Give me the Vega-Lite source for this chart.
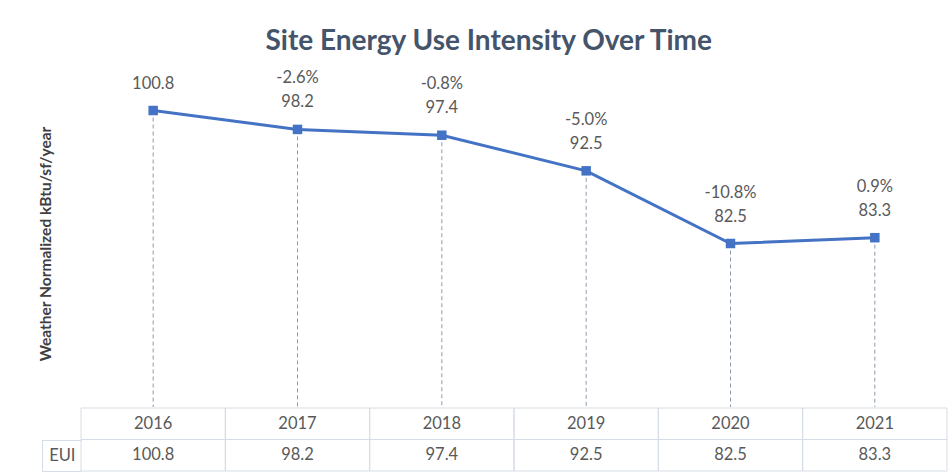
{
  "$schema": "https://vega.github.io/schema/vega-lite/v6.json",
  "background": "white",
  "padding": {"left": 38, "top": 27, "right": 3, "bottom": 3},
  "title": {
    "text": "Site Energy Use Intensity Over Time",
    "font": "Lato",
    "fontSize": 28,
    "fontWeight": "bold",
    "color": "#44546A",
    "anchor": "middle",
    "frame": "bounds",
    "dx": -4,
    "offset": -4
  },
  "config": {"view": {"stroke": null}},
  "datasets": {
    "eui": [
      {"year": "2016", "eui": 100.8, "pct": ""},
      {"year": "2017", "eui": 98.2, "pct": "-2.6%"},
      {"year": "2018", "eui": 97.4, "pct": "-0.8%"},
      {"year": "2019", "eui": 92.5, "pct": "-5.0%"},
      {"year": "2020", "eui": 82.5, "pct": "-10.8%"},
      {"year": "2021", "eui": 83.3, "pct": "0.9%"}
    ]
  },
  "spacing": -13.5,
  "vconcat": [
    {
      "width": 866,
      "height": 327,
      "data": {"name": "eui"},
      "encoding": {
        "x": {"field": "year", "type": "ordinal", "scale": {"paddingInner": 0, "paddingOuter": 0}, "axis": null}
      },
      "layer": [
        {
          "mark": {"type": "rule", "strokeDash": [4, 3], "color": "#8C99AD", "strokeWidth": 1},
          "encoding": {
            "y": {
              "field": "eui", "type": "quantitative",
              "scale": {"domain": [60, 105], "nice": false, "zero": false},
              "axis": {
                "title": "Weather Normalized  kBtu/sf/year",
                "titleFont": "Lato", "titleFontSize": 15.5, "titleFontWeight": "bold", "titleColor": "#404040",
                "titlePadding": 28,
                "domain": false, "ticks": false, "labels": false, "grid": false
              }
            },
            "y2": {"datum": 60}
          }
        },
        {
          "mark": {"type": "line", "color": "#4472C4", "strokeWidth": 3},
          "encoding": {"y": {"field": "eui", "type": "quantitative"}}
        },
        {
          "mark": {"type": "square", "size": 90, "color": "#4472C4", "opacity": 1, "filled": true},
          "encoding": {"y": {"field": "eui", "type": "quantitative"}}
        },
        {
          "mark": {"type": "text", "dy": -27, "font": "Lato", "fontSize": 16.5, "color": "#595959", "baseline": "middle"},
          "encoding": {"y": {"field": "eui", "type": "quantitative"}, "text": {"field": "eui", "format": ".1f"}}
        },
        {
          "mark": {"type": "text", "dy": -51, "font": "Lato", "fontSize": 16.5, "color": "#595959", "baseline": "middle"},
          "encoding": {"y": {"field": "eui", "type": "quantitative"}, "text": {"field": "pct"}}
        }
      ]
    },
    {
      "width": 866,
      "height": 63,
      "data": {"name": "eui"},
      "encoding": {
        "x": {"field": "year", "type": "ordinal", "scale": {"paddingInner": 0, "paddingOuter": 0}, "axis": null}
      },
      "layer": [
        {
          "mark": {"type": "rect", "fill": "transparent", "stroke": "#D6DCE5", "strokeWidth": 1},
          "encoding": {
            "y": {
              "datum": "Year", "type": "ordinal",
              "scale": {"domain": ["Year", "EUI"], "paddingInner": 0, "paddingOuter": 0},
              "axis": {
                "title": null,
                "offset": 39,
                "domain": true, "domainColor": "#D6DCE5", "domainDash": [31.5, 31.5], "domainDashOffset": 31.5,
                "ticks": true, "tickBand": "extent", "tickSize": -39,
                "tickColor": {"condition": {"test": "datum.extra", "value": "transparent"}, "value": "#D6DCE5"},
                "labelExpr": "datum.value == 'EUI' ? 'EUI' : ''",
                "labelFont": "Lato", "labelFontSize": 16.5, "labelColor": "#595959",
                "labelPadding": 6, "labelAlign": "right"
              }
            }
          }
        },
        {
          "mark": {"type": "rect", "fill": "transparent", "stroke": "#D6DCE5", "strokeWidth": 1},
          "encoding": {"y": {"datum": "EUI", "type": "ordinal"}}
        },
        {
          "mark": {"type": "text", "font": "Lato", "fontSize": 16.5, "color": "#595959", "baseline": "middle"},
          "encoding": {"y": {"datum": "Year", "type": "ordinal"}, "text": {"field": "year"}}
        },
        {
          "mark": {"type": "text", "font": "Lato", "fontSize": 16.5, "color": "#595959", "baseline": "middle"},
          "encoding": {"y": {"datum": "EUI", "type": "ordinal"}, "text": {"field": "eui", "format": ".1f"}}
        }
      ]
    }
  ]
}
